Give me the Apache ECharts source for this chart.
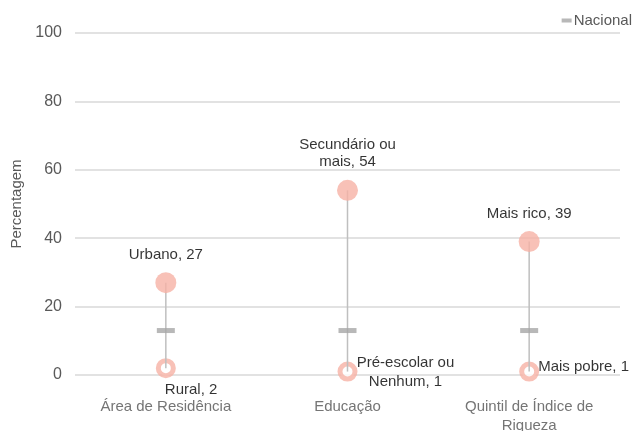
<!DOCTYPE html>
<html>
<head>
<meta charset="utf-8">
<script src="https://cdn.jsdelivr.net/npm/echarts@6/dist/echarts.min.js"></script>
<style>
  html, body { margin: 0; padding: 0; background: #fff; }
  #chart { width: 635px; height: 431px; }
</style>
</head>
<body>
<div id="chart"></div>
<script>
// data
var categories = ['Área de Residência', 'Educação', 'Quintil de Índice de\nRiqueza']
var highNames = ['Urbano', 'Secundário ou\nmais', 'Mais rico']
var highValues = [27, 54, 39]
var lowNames = ['Rural', 'Pré-escolar ou\nNenhum', 'Mais pobre']
var lowValues = [2, 1, 1]
var nationalValues = [13, 13, 13]
var yTicks = [0, 20, 40, 60, 80, 100]

var pink = '#f6b1a5'
var grey = '#a6a6a6'
var font = 'Liberation Sans'

// label placement for the low points, one per category
var lowLabels = [
  { position: 'bottom', distance: 2, align: 'left', offset: [-1, 0] },
  { position: 'right', distance: 48, align: 'center', offset: [0, 1] },
  { position: 'right', distance: -1, align: 'left', offset: [0, -5] },
]

var chart = echarts.init(document.getElementById('chart'))

chart.setOption({
  backgroundColor: '#fff',
  animation: false,
  textStyle: { fontFamily: font },
  legend: {
    right: -2,
    top: 8,
    data: [{ name: 'Nacional', icon: 'rect' }],
    itemWidth: 10,
    itemHeight: 4,
    itemGap: 4,
    textStyle: { color: '#595959', fontSize: 15, fontFamily: font, padding: [0, 0, 0, -3] },
  },
  grid: { left: 75, right: 15, top: 33, bottom: 56, outerBoundsMode: 'none' },
  xAxis: {
    type: 'category',
    data: categories,
    axisLine: { show: false },
    axisTick: { show: false },
    axisLabel: { color: '#757575', fontSize: 15, margin: 22, lineHeight: 19, fontFamily: font },
  },
  yAxis: {
    type: 'value',
    min: yTicks[0],
    max: yTicks[yTicks.length - 1],
    interval: 20,
    name: 'Percentagem',
    nameLocation: 'middle',
    nameGap: 50,
    nameTextStyle: { color: '#595959', fontSize: 15, fontFamily: font },
    axisLabel: { color: '#595959', fontSize: 16, margin: 13, fontFamily: font },
    splitLine: { lineStyle: { color: '#d9d9d9', width: 1.5 } },
  },
  series: [
    {
      name: 'Baixo',
      type: 'scatter',
      z: 1,
      symbolSize: 15,
      itemStyle: { color: '#fff', borderColor: pink, borderWidth: 5 },
      data: lowValues.map(function (v, i) {
        return {
          value: [i, v],
          label: {
            show: true,
            position: lowLabels[i].position,
            distance: lowLabels[i].distance,
            align: lowLabels[i].align,
            offset: lowLabels[i].offset,
            color: '#000',
            fontSize: 15,
            lineHeight: 19,
            fontFamily: font,
            formatter: lowNames[i] + ', ' + v,
          },
        }
      }),
    },
    {
      // vertical connector from low to high
      type: 'custom',
      silent: true,
      z: 2,
      data: categories.map(function (c, i) { return [i, lowValues[i], highValues[i]] }),
      renderItem: function (params, api) {
        var a = api.coord([api.value(0), api.value(1)])
        var b = api.coord([api.value(0), api.value(2)])
        return {
          type: 'line',
          shape: { x1: a[0], y1: a[1], x2: b[0], y2: b[1] },
          style: { stroke: '#bfbfbf', lineWidth: 1.5 },
        }
      },
    },
    {
      name: 'Nacional',
      type: 'scatter',
      z: 3,
      symbol: 'rect',
      symbolSize: [18, 5],
      itemStyle: { color: grey },
      data: nationalValues.map(function (v, i) { return [i, v] }),
    },
    {
      name: 'Alto',
      type: 'scatter',
      z: 4,
      symbolSize: 21,
      itemStyle: { color: pink },
      label: {
        show: true,
        position: 'top',
        distance: 9,
        color: '#000',
        fontSize: 15,
        lineHeight: 17,
        fontFamily: font,
        formatter: function (p) { return highNames[p.dataIndex] + ', ' + highValues[p.dataIndex] },
      },
      data: highValues.map(function (v, i) { return [i, v] }),
    },
  ],
})
</script>
</body>
</html>
